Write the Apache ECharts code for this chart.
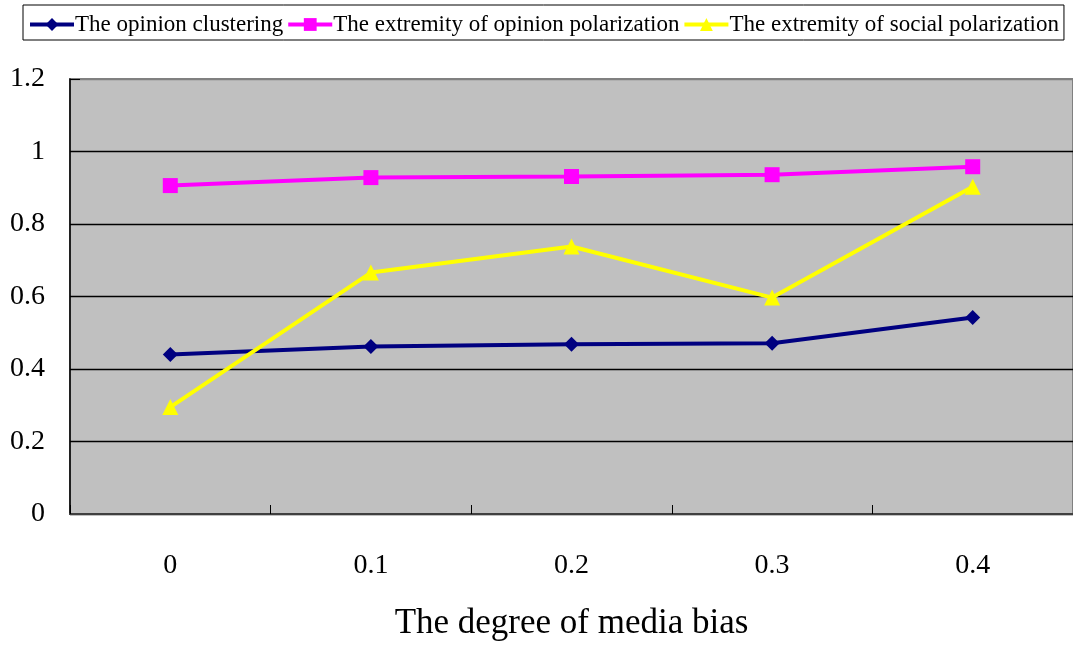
<!DOCTYPE html>
<html>
<head>
<meta charset="utf-8">
<script src="https://cdn.jsdelivr.net/npm/echarts@6/dist/echarts.min.js"></script>
<style>
html,body{margin:0;padding:0;background:#fff;}
#chart{width:1073px;height:646px;}
</style>
</head>
<body>
<div id="chart"></div>
<script>
var categories = ['0', '0.1', '0.2', '0.3', '0.4'];
var opinionClustering = [0.440, 0.462, 0.468, 0.471, 0.542];
var opinionPolarization = [0.906, 0.928, 0.931, 0.936, 0.958];
var socialPolarization = [0.295, 0.666, 0.738, 0.597, 0.903];
var seriesNames = ['The opinion clustering', 'The extremity of opinion polarization', 'The extremity of social polarization'];
var xAxisName = 'The degree of media bias';

var FONT = '"Liberation Serif", "DejaVu Serif", serif';
var chart = echarts.init(document.getElementById('chart'), null, {renderer: 'canvas'});
chart.setOption({
  animation: false,
  backgroundColor: '#ffffff',
  textStyle: {fontFamily: FONT},
  legend: {
    left: 23, top: 5,
    padding: [8, 5, 4, 5],
    borderColor: '#000', borderWidth: 1,
    itemWidth: 44, itemHeight: 16, itemGap: 3,
    lineStyle: {width: 4},
    textStyle: {fontFamily: FONT, fontSize: 23, color: '#000', padding: [0, 0, 0, -4]},
    data: seriesNames
  },
  grid: {
    left: 70, right: -2, top: 79, bottom: 131,
    show: true, backgroundColor: '#c0c0c0', borderColor: '#808080', borderWidth: 2
  },
  xAxis: {
    type: 'category',
    data: categories,
    boundaryGap: true,
    name: xAxisName,
    nameLocation: 'middle',
    nameGap: 92,
    nameTextStyle: {fontFamily: FONT, fontSize: 35, color: '#000'},
    axisLine: {show: true, lineStyle: {color: '#404040', width: 2}},
    axisTick: {show: true, inside: true, interval: 0, length: 9, lineStyle: {color: '#000', width: 1}},
    axisLabel: {margin: 38, fontFamily: FONT, fontSize: 28, color: '#000'},
    z: 10
  },
  yAxis: {
    type: 'value',
    min: 0, max: 1.2, interval: 0.2,
    axisLine: {show: true, lineStyle: {color: '#000', width: 1.5}},
    axisTick: {show: true, inside: true, length: 10, lineStyle: {color: '#000'}},
    axisLabel: {margin: 25, fontFamily: FONT, fontSize: 28, color: '#000',
      formatter: function (v) { return String(Math.round(v * 10) / 10); }},
    splitLine: {show: true, lineStyle: {color: ['#000', '#000', '#000', '#000', '#000', '#000', '#808080'], width: 1.3}}
  },
  series: [
    {
      name: seriesNames[0], type: 'line', data: opinionClustering,
      symbol: 'diamond', symbolSize: 15,
      itemStyle: {color: '#000080'}, lineStyle: {color: '#000080', width: 4}
    },
    {
      name: seriesNames[1], type: 'line', data: opinionPolarization,
      symbol: 'rect', symbolSize: 15,
      itemStyle: {color: '#ff00ff'}, lineStyle: {color: '#ff00ff', width: 4}
    },
    {
      name: seriesNames[2], type: 'line', data: socialPolarization,
      symbol: 'triangle', symbolSize: 16,
      itemStyle: {color: '#ffff00'}, lineStyle: {color: '#ffff00', width: 4}
    }
  ]
});
</script>
</body>
</html>
